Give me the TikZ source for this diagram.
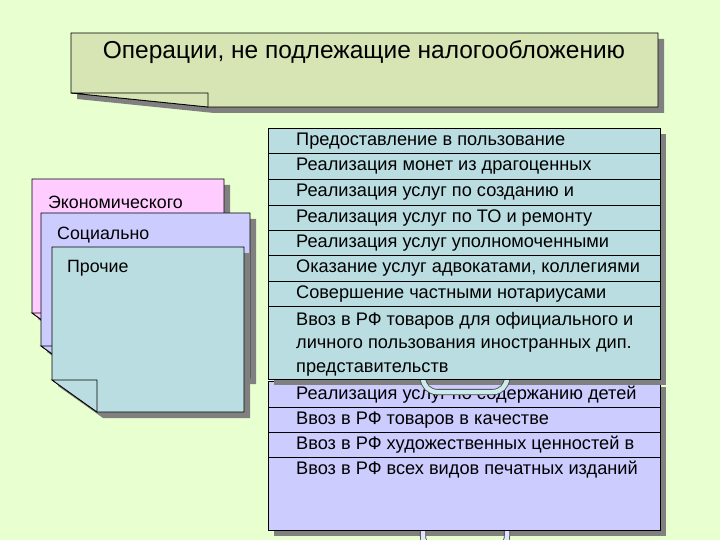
\documentclass[tikz,border=0pt]{standalone}
\usepackage{fontspec}
\setmainfont{Liberation Sans}
\usetikzlibrary{positioning}

\definecolor{bgGreen}{RGB}{232,255,208}
\definecolor{titleFill}{RGB}{215,228,180}
\definecolor{pinkFill}{RGB}{255,204,255}
\definecolor{lavFill}{RGB}{204,204,255}
\definecolor{cyanFill}{RGB}{186,221,226}
\definecolor{shadowGray}{RGB}{128,128,128}
\definecolor{ringEdge}{RGB}{70,70,70}
\definecolor{ringCyan}{RGB}{205,234,236}
\definecolor{ringLav}{RGB}{228,228,255}

\begin{document}
\begin{tikzpicture}[
    x=1pt, y=-1pt,
    font=\fontsize{18.2}{23.5}\selectfont,
    card/.style={draw=black, line width=0.8pt, fill=#1},
    shade/.style={fill=shadowGray, draw=none},
    rowText/.style={anchor=west, inner sep=0pt, align=left},
    rowLine/.style={draw=black, line width=0.6pt},
    ring/.style={draw=ringEdge, line width=0.8pt, double=#1,
                 double distance=4.5pt, rounded corners=14pt}
  ]

  %% ---- Background ----
  \fill[bgGreen] (0,0) rectangle (720,540);
  \useasboundingbox (0,0) rectangle (720,540);
  \clip (0,0) rectangle (720,540);

  %% ---- Title sheet ----
  \fill[shade, shift={(6,6)}] (71,33) -- (658,33) -- (658,107) -- (208,107) -- (71,93) -- cycle;
  \draw[card=titleFill] (71,33) -- (658,33) -- (658,107) -- (208,107) -- (71,93) -- cycle;
  \draw[card=titleFill] (71,93) -- (208,93) -- (208,107) -- cycle;
  \node[font=\fontsize{24.5}{28}\selectfont] (title) at (364,52)
       {Операции, не подлежащие налогообложению};

  %% ---- Left stack of sheets ----
  \fill[shade, shift={(6,6)}] (32,179) -- (224,179) -- (224,345) -- (77,345) -- (32,313) -- cycle;
  \draw[card=pinkFill] (32,179) -- (224,179) -- (224,345) -- (77,345) -- (32,313) -- cycle;
  \draw[card=pinkFill] (32,313) -- (77,313) -- (77,345) -- cycle;
  \node[rowText, font=\fontsize{17.8}{22}\selectfont] (econ) at (48,202) {Экономического};

  \fill[shade, shift={(6,6)}] (41,213) -- (250,213) -- (250,378) -- (86,378) -- (41,346) -- cycle;
  \draw[card=lavFill] (41,213) -- (250,213) -- (250,378) -- (86,378) -- (41,346) -- cycle;
  \draw[card=lavFill] (41,346) -- (86,346) -- (86,378) -- cycle;
  \node[rowText, font=\fontsize{17.8}{22}\selectfont] (social) at (57,235) {Социально};

  \fill[shade, shift={(6,6)}] (52,247) -- (244,247) -- (244,412) -- (97,412) -- (52,380) -- cycle;
  \draw[card=cyanFill] (52,247) -- (244,247) -- (244,412) -- (97,412) -- (52,380) -- cycle;
  \draw[card=cyanFill] (52,380) -- (97,380) -- (97,412) -- cycle;
  \node[rowText, font=\fontsize{17.8}{22}\selectfont] (other) at (67,268) {Прочие};

  %% ---- Lower list sheet ----
  \fill[shade] (274,387) rectangle (666,536);
  \draw[ring=ringLav] (423,505) rectangle (507,550);
  \draw[card=lavFill] (268,381) rectangle (660,530);
  \draw[rowLine] (268,407) -- (660,407);
  \draw[rowLine] (268,432) -- (660,432);
  \draw[rowLine] (268,457) -- (660,457);
  \node[rowText] (q1) at (296,395) {Реализация услуг по содержанию детей};
  \node[rowText] (q2) at (296,420) {Ввоз в РФ товаров в качестве};
  \node[rowText] (q3) at (296,445) {Ввоз в РФ художественных ценностей в};
  \node[rowText] (q4) at (296,470) {Ввоз в РФ всех видов печатных изданий};

  %% ---- Upper list sheet ----
  \fill[shade] (274,134) rectangle (666,385);
  \draw[ring=ringCyan] (423,352) rectangle (507,392);
  \draw[card=cyanFill] (268,128) rectangle (660,379);
  \draw[rowLine] (268,153) -- (660,153);
  \draw[rowLine] (268,179) -- (660,179);
  \draw[rowLine] (268,205) -- (660,205);
  \draw[rowLine] (268,230) -- (660,230);
  \draw[rowLine] (268,255) -- (660,255);
  \draw[rowLine] (268,281) -- (660,281);
  \draw[rowLine] (268,306) -- (660,306);
  \node[rowText] (p1) at (296,141) {Предоставление в пользование};
  \node[rowText] (p2) at (296,166) {Реализация монет из драгоценных};
  \node[rowText] (p3) at (296,192) {Реализация услуг по созданию и};
  \node[rowText] (p4) at (296,218) {Реализация услуг по ТО и ремонту};
  \node[rowText] (p5) at (296,243) {Реализация услуг уполномоченными};
  \node[rowText] (p6) at (296,268) {Оказание услуг адвокатами, коллегиями};
  \node[rowText] (p7) at (296,294) {Совершение частными нотариусами};
  \node[rowText] (p8) at (296,344) {Ввоз в РФ товаров для официального и\\
       личного пользования иностранных дип.\\представительств};

\end{tikzpicture}
\end{document}
